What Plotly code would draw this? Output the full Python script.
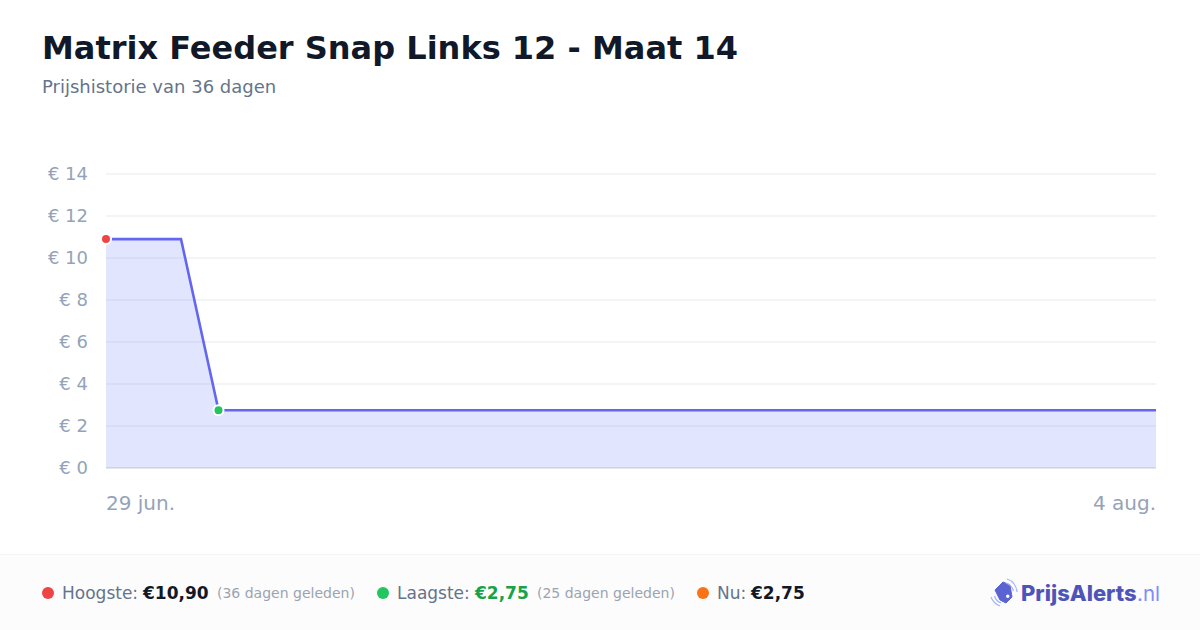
import plotly.graph_objects as go

TITLE = "Matrix Feeder Snap Links 12 - Maat 14"
SUBTITLE = "Prijshistorie van 36 dagen"
point_index = list(range(29))
prices = [10.90, 10.90, 10.90] + [2.75] * 26
y_ticks = [0, 2, 4, 6, 8, 10, 12, 14]
y_labels = ["€ 0", "€ 2", "€ 4", "€ 6", "€ 8", "€ 10", "€ 12", "€ 14"]
x_first_label = "29 jun."
x_last_label = "4 aug."
high_index, high_value = 0, 10.90
low_index, low_value = 3, 2.75

W, H = 1200, 630
L, R, T, B = 106, 1156, 163.5, 468
Y_MAX = 14.5
FONT = "DejaVu Sans"


def px(x):
    return x / W


def py(y):
    return 1 - y / H


fig = go.Figure()
fig.add_trace(go.Scatter(
    x=point_index, y=prices, mode="lines",
    line=dict(color="#6366f1", width=2.6, shape="linear"),
    fill="tozeroy", fillcolor="rgba(99,115,250,0.19)",
    hoverinfo="skip", showlegend=False, cliponaxis=False,
))
fig.add_trace(go.Scatter(
    x=[high_index], y=[high_value], mode="markers",
    marker=dict(color="#ef4444", size=10, line=dict(color="#ffffff", width=2)),
    hoverinfo="skip", showlegend=False, cliponaxis=False,
))
fig.add_trace(go.Scatter(
    x=[low_index], y=[low_value], mode="markers",
    marker=dict(color="#22c55e", size=10, line=dict(color="#ffffff", width=2)),
    hoverinfo="skip", showlegend=False, cliponaxis=False,
))

shapes = [
    dict(type="rect", xref="paper", yref="paper", x0=0, x1=1, y0=0, y1=py(554.5),
         fillcolor="#fcfcfd", line=dict(width=0), layer="below"),
    dict(type="line", xref="paper", yref="paper", x0=0, x1=1, y0=py(554.5), y1=py(554.5),
         line=dict(color="#f3f4f6", width=1), layer="below"),
]


def dot(cx, color):
    cy = 593
    r = 6
    shapes.append(dict(type="circle", xref="paper", yref="paper",
                       x0=px(cx - r), x1=px(cx + r), y0=py(cy + r), y1=py(cy - r),
                       fillcolor=color, line=dict(width=0)))


dot(48, "#ef4444")
dot(383, "#22c55e")
dot(703, "#f97316")

shapes.append(dict(type="path", xref="paper", yref="paper", fillcolor="#5b63d3", line=dict(color="#5b63d3", width=1),
                   path="M %.5f %.5f L %.5f %.5f L %.5f %.5f L %.5f %.5f L %.5f %.5f L %.5f %.5f Z" % (
                       px(995), py(590), px(1003), py(582), px(1010), py(585), px(1012), py(597),
                       px(1006), py(603), px(1000), py(600))))
shapes.append(dict(type="circle", xref="paper", yref="paper", x0=px(1006), x1=px(1009.5), y0=py(598), y1=py(594.5),
                   fillcolor="#fcfcfd", line=dict(width=0)))
for a, b, c in [((1007, 579), (1016, 582), (1017, 592)),
                ((1006, 583), (1012, 585), (1013.5, 591)),
                ((991, 597), (993, 603), (1000, 606)),
                ((994.5, 596), (996, 601), (1001, 603))]:
    shapes.append(dict(type="path", xref="paper", yref="paper", fillcolor="rgba(0,0,0,0)",
                       line=dict(color="#a5b4fc", width=1.2),
                       path="M %.5f %.5f Q %.5f %.5f %.5f %.5f" % (px(a[0]), py(a[1]), px(b[0]), py(b[1]), px(c[0]), py(c[1]))))


def label(x, y, text, size, color, anchor="left", family=FONT, weight=None):
    font = dict(family=family, size=size, color=color)
    if weight:
        font["weight"] = weight
    return dict(xref="paper", yref="paper", x=px(x), y=py(y), text=text, showarrow=False,
                xanchor=anchor, yanchor="middle", align=anchor, font=font,
                borderpad=0, borderwidth=0)


annotations = [
    label(42, 48, f"<b>{TITLE}</b>", 32, "#111827"),
    label(42, 87, SUBTITLE, 18, "#64748b"),
    label(L, 503, x_first_label, 20, "#94a3b8"),
    label(R, 503, x_last_label, 20, "#94a3b8", "right"),
    label(62, 593, "Hoogste:", 17, "#64748b"),
    label(142.4, 593, "<b>€10,90</b>", 17, "#111827"),
    label(217, 593, "(36 dagen geleden)", 14, "#9ca3af"),
    label(397, 593, "Laagste:", 17, "#64748b"),
    label(474, 593, "<b>€2,75</b>", 17, "#16a34a"),
    label(537, 593, "(25 dagen geleden)", 14, "#9ca3af"),
    label(717, 593, "Nu:", 17, "#64748b"),
    label(750, 593, "<b>€2,75</b>", 17, "#111827"),
    label(1021, 593, "PrijsAlerts", 22, "#4f55b8", family="Inter", weight=800),
    label(1136.5, 593, ".nl", 20.5, "#818cf8", family="Inter", weight=400),
]

fig.update_layout(
    width=W, height=H, autosize=False,
    margin=dict(l=0, r=0, t=0, b=0),
    paper_bgcolor="#ffffff", plot_bgcolor="#ffffff",
    showlegend=False, shapes=shapes, annotations=annotations,
    font=dict(family=FONT),
    xaxis=dict(domain=[px(L), px(R)], range=[point_index[0], point_index[-1]], automargin=False,
               showgrid=False, zeroline=False, showticklabels=False, ticks="",
               showline=False, fixedrange=True),
    yaxis=dict(domain=[py(B), py(T)], range=[0, Y_MAX], tickvals=y_ticks, ticktext=y_labels, automargin=False,
               showgrid=True, gridcolor="#f3f4f6", gridwidth=2, zeroline=True,
               zerolinecolor="#e5e7eb", zerolinewidth=2, showline=False, ticks="",
               ticklabelstandoff=17,
               tickfont=dict(family=FONT, size=18, color="#94a3b8"), fixedrange=True),
)

fig.write_html("out.html", config=dict(displayModeBar=False),
               post_script="document.body.style.margin='0';document.body.style.overflow='hidden';")
